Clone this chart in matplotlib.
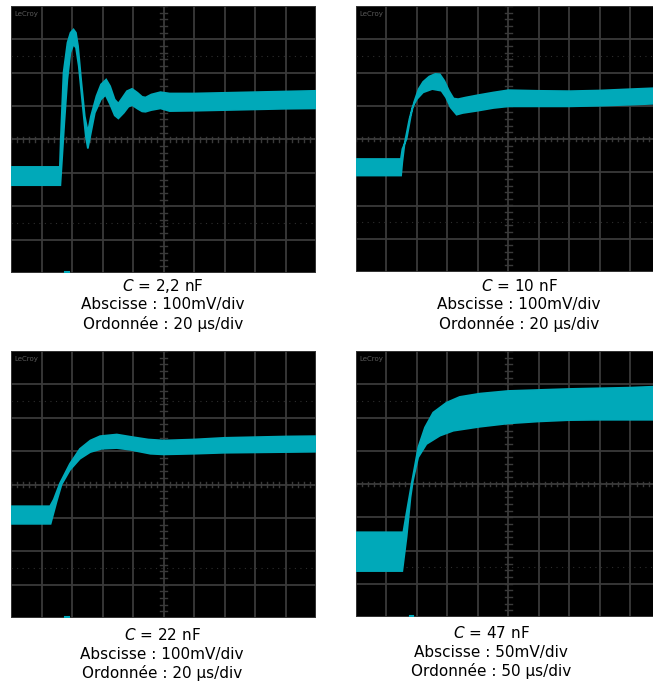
import numpy as np
import matplotlib
matplotlib.use('Agg')
import matplotlib.pyplot as plt

TRACE = '#00a9b9'
GRID = '#3a3a3a'

# envelopes of the trace, in divisions (x: 0..10, y: -4..4)
up1_x = [0, 1.6, 1.63, 1.72, 1.85, 1.95, 2.05, 2.13, 2.2, 2.3, 2.42, 2.52, 2.62, 2.8, 2.95, 3.12, 3.25, 3.4, 3.52,
         3.65, 3.8, 3.97, 4.15, 4.3, 4.41, 4.6, 4.9, 5.2, 6, 7, 8, 9, 10]
up1_y = [-0.82, -0.82, 0, 2.0, 2.9, 3.2, 3.3, 3.2, 2.8, 1.8, 0.7, 0.23, 0.7, 1.3, 1.65, 1.8, 1.6, 1.2, 1.08,
         1.25, 1.45, 1.52, 1.4, 1.28, 1.26, 1.35, 1.42, 1.38, 1.38, 1.4, 1.42, 1.44, 1.46]
lo1_x = [0, 1.62, 1.66, 1.75, 1.85, 1.95, 2.05, 2.13, 2.22, 2.35, 2.45, 2.52, 2.6, 2.75, 2.95, 3.1, 3.25, 3.4, 3.52,
         3.7, 3.85, 3.97, 4.15, 4.3, 4.41, 4.6, 4.9, 5.2, 6, 7, 8, 9, 10]
lo1_y = [-1.37, -1.37, -0.8, 0.5, 1.8, 2.6, 2.85, 2.75, 2.2, 1.0, 0.1, -0.27, 0.1, 0.8, 1.2, 1.33, 1.05, 0.72, 0.63,
         0.8, 0.98, 1.03, 0.92, 0.84, 0.83, 0.88, 0.93, 0.85, 0.86, 0.88, 0.9, 0.92, 0.93]

up2_x = [0, 1.47, 1.52, 1.66, 1.8, 1.9, 2.05, 2.2, 2.4, 2.6, 2.75, 2.9, 3.05, 3.2, 3.35, 3.6, 4.0, 4.5, 5.0, 6, 7, 8, 9, 9.8]
up2_y = [-0.6, -0.6, -0.3, 0.0, 0.7, 1.1, 1.5, 1.72, 1.88, 1.96, 1.95, 1.75, 1.45, 1.22, 1.2, 1.25, 1.32, 1.4, 1.47,
         1.45, 1.44, 1.46, 1.5, 1.53]
lo2_x = [0, 1.48, 1.52, 1.6, 1.75, 1.85, 2.0, 2.2, 2.5, 2.8, 2.95, 3.1, 3.3, 3.5, 4.0, 4.5, 5.0, 6, 7, 8, 9, 9.8]
lo2_y = [-1.1, -1.1, -0.7, -0.1, 0.6, 0.95, 1.2, 1.4, 1.5, 1.45, 1.25, 0.95, 0.73, 0.78, 0.85, 0.93, 0.98,
         0.98, 0.98, 1.0, 1.03, 1.06]

up3_x = [0, 1.28, 1.4, 1.6, 1.93, 2.26, 2.6, 2.92, 3.47, 4.0, 4.5, 5.0, 6, 7, 8, 9, 10]
up3_y = [-0.65, -0.65, -0.45, 0.03, 0.62, 1.07, 1.32, 1.45, 1.5, 1.42, 1.35, 1.32, 1.35, 1.4, 1.42, 1.44, 1.45]
lo3_x = [0, 1.3, 1.5, 1.66, 1.93, 2.26, 2.6, 2.98, 3.47, 3.9, 4.57, 5.0, 6, 7, 8, 9, 10]
lo3_y = [-1.18, -1.18, -0.5, 0.0, 0.43, 0.77, 0.97, 1.07, 1.09, 1.04, 0.92, 0.9, 0.92, 0.95, 0.96, 0.97, 0.98]

up4_x = [0, 1.55, 1.65, 1.82, 2.04, 2.26, 2.53, 2.97, 3.4, 4.06, 5.0, 6, 7, 8, 9, 9.8]
up4_y = [-1.45, -1.45, -0.9, 0.0, 1.1, 1.7, 2.15, 2.45, 2.62, 2.72, 2.8, 2.83, 2.86, 2.88, 2.9, 2.93]
lo4_x = [0, 1.52, 1.66, 1.79, 1.87, 2.04, 2.31, 2.75, 3.19, 4.06, 5.0, 6, 7, 8, 9, 9.8]
lo4_y = [-2.62, -2.62, -1.6, -0.4, 0.1, 0.8, 1.2, 1.45, 1.6, 1.72, 1.82, 1.88, 1.92, 1.93, 1.93, 1.93]

# trigger position marks at the bottom edge (divisions), None = not shown
trig_x = [1.83, None, 1.83, 1.82]

captions = [
    [r'$C$ = 2,2 nF', 'Abscisse : 100mV/div', 'Ordonnée : 20 µs/div'],
    [r'$C$ = 10 nF', 'Abscisse : 100mV/div', 'Ordonnée : 20 µs/div'],
    [r'$C$ = 22 nF', 'Abscisse : 100mV/div', 'Ordonnée : 20 µs/div'],
    [r'$C$ = 47 nF', 'Abscisse : 50mV/div', 'Ordonnée : 50 µs/div'],
]

W, H = 653, 687
# pixel boxes: left, top, right, bottom ; xmax in divisions
boxes = [(11, 6, 316, 273, 10), (356, 6, 653, 272, 9.74), (11, 351, 316, 618, 10), (356, 351, 653, 617, 9.74)]
text_pos = [(163, 286), (519, 286), (162, 635), (491, 633)]
traces = [(up1_x, up1_y, lo1_x, lo1_y), (up2_x, up2_y, lo2_x, lo2_y),
          (up3_x, up3_y, lo3_x, lo3_y), (up4_x, up4_y, lo4_x, lo4_y)]


def scope_grid(ax, xmax):
    ax.set_facecolor('black')
    for x in range(0, 11):
        ax.axvline(x, color=GRID, lw=1.3, zorder=1)
    for y in range(-4, 5):
        ax.axhline(y, color=GRID, lw=1.3, zorder=1)
    for y in (-2.5, 2.5):
        ax.axhline(y, color='#2e2e2e', lw=0.8, ls=(0, (1, 4)), zorder=1)
    # small ticks on the centre axes
    for t in np.arange(0, 10.01, 0.2):
        ax.plot([t, t], [-0.07, 0.07], color=GRID, lw=1.0, zorder=1)
    for t in np.arange(-4, 4.01, 0.2):
        ax.plot([4.9, 5.1], [t, t], color=GRID, lw=1.0, zorder=1)
    ax.set_xlim(0, xmax)
    ax.set_ylim(-4, 4)
    ax.set_xticks([])
    ax.set_yticks([])
    for s in ax.spines.values():
        s.set_visible(False)
    ax.text(0.1, 3.75, 'LeCroy', color='#5a5a5a', fontsize=5, ha='left', va='center', zorder=2)


fig = plt.figure(figsize=(W / 100, H / 100), dpi=100)
for i, (l, t, r, b, xmax) in enumerate(boxes):
    ax = fig.add_axes([l / W, 1 - b / H, (r - l) / W, (b - t) / H])
    scope_grid(ax, xmax)
    ux, uy, lx, ly = traces[i]
    px = list(ux) + list(lx)[::-1]
    py = list(uy) + list(ly)[::-1]
    ax.fill(px, py, color=TRACE, lw=1.2, ec=TRACE, zorder=3)
    if trig_x[i] is not None:
        ax.plot([trig_x[i] - 0.06, trig_x[i] + 0.06], [-3.98, -3.98], color=TRACE, lw=1.5, zorder=3)
    cx, cy = text_pos[i]
    for k, line in enumerate(captions[i]):
        fig.text(cx / W, 1 - (cy + 19 * k) / H, line, ha='center', va='center', fontsize=11, color='black')

fig.savefig('out.png', dpi=100, facecolor='white')
